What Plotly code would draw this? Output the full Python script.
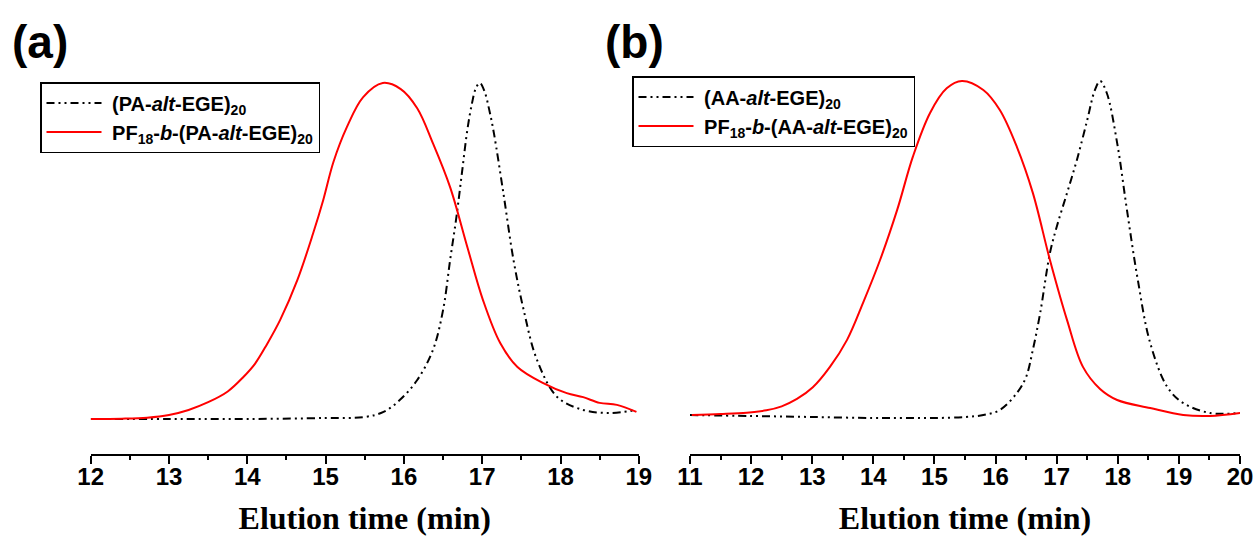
import plotly.graph_objects as go

# ---------------- data (normalized detector response) ----------------
# Panel (a)
time_a_pa = [12.0, 13.0, 14.0, 15.0, 15.5, 15.74, 15.95, 16.17, 16.37, 16.5, 16.59, 16.67, 16.74,
             16.81, 16.87, 16.92, 16.97, 17.03, 17.09, 17.15, 17.27, 17.4, 17.53, 17.7, 17.96,
             18.29, 18.63, 18.97]
int_a_pa = [0.0, 0.0, 0.0, 0.003, 0.006, 0.021, 0.057, 0.116, 0.205, 0.324, 0.473, 0.60, 0.73,
            0.86, 0.94, 0.985, 1.0, 0.975, 0.92, 0.85, 0.673, 0.473, 0.324, 0.176, 0.065,
            0.027, 0.018, 0.027]
time_a_pf = [12.0, 12.4, 12.72, 13.0, 13.25, 13.5, 13.75, 13.95, 14.1, 14.25, 14.42, 14.64, 14.84,
             14.97, 15.1, 15.27, 15.48, 15.73, 15.96, 16.17, 16.37, 16.59, 16.81, 17.01, 17.23,
             17.45, 17.78, 18.08, 18.29, 18.5, 18.72, 18.97]
int_a_pf = [0.0, 0.001, 0.004, 0.012, 0.027, 0.050, 0.082, 0.125, 0.165, 0.222, 0.295, 0.414, 0.552,
            0.652, 0.765, 0.868, 0.958, 1.0, 0.982, 0.925, 0.821, 0.69, 0.512, 0.354, 0.226,
            0.155, 0.107, 0.077, 0.065, 0.048, 0.042, 0.021]

# Panel (b)
time_b_aa = [11.0, 12.0, 13.0, 14.0, 14.5, 15.0, 15.5, 15.8, 16.07, 16.35, 16.5, 16.61, 16.73,
             16.89, 17.0, 17.17, 17.33, 17.5, 17.62, 17.71, 17.82, 17.99, 18.15, 18.32, 18.53,
             18.81, 19.07, 19.51, 20.0]
int_b_aa = [0.0, -0.003, -0.006, -0.009, -0.009, -0.009, -0.006, 0.0, 0.015, 0.066, 0.114, 0.195,
            0.305, 0.485, 0.563, 0.665, 0.763, 0.883, 0.97, 1.0, 0.964, 0.814, 0.614, 0.413,
            0.216, 0.084, 0.036, 0.006, 0.006]
time_b_pf = [11.03, 11.5, 11.93, 12.25, 12.5, 12.75, 13.01, 13.29, 13.57, 13.83, 14.11, 14.39, 14.65,
             14.93, 15.2, 15.45, 15.8, 16.07, 16.35, 16.61, 16.89, 17.17, 17.43, 17.71, 17.99,
             18.53, 19.07, 19.51, 20.0]
int_b_pf = [0.0, 0.003, 0.007, 0.014, 0.026, 0.048, 0.083, 0.144, 0.225, 0.335, 0.464, 0.614, 0.775,
            0.905, 0.978, 1.0, 0.973, 0.913, 0.802, 0.665, 0.464, 0.284, 0.144, 0.078, 0.045,
            0.021, 0.0, -0.003, 0.006]

name_a_pa = "&nbsp;(PA-<i>alt</i>-EGE)<sub>20</sub>"
name_a_pf = "&nbsp;PF<sub>18</sub>-<i>b</i>-(PA-<i>alt</i>-EGE)<sub>20</sub>"
name_b_aa = "&nbsp;(AA-<i>alt</i>-EGE)<sub>20</sub>"
name_b_pf = "&nbsp;PF<sub>18</sub>-<i>b</i>-(AA-<i>alt</i>-EGE)<sub>20</sub>"

x_title = "Elution time (min)"
ticks_a = [12, 13, 14, 15, 16, 17, 18, 19]
ticks_b = [11, 12, 13, 14, 15, 16, 17, 18, 19, 20]

# ---------------- figure ----------------
W, H = 1258, 536
top_px, bot_px = 60, 454
black_dash = "8px,4px,2px,4px,2px,4px"
sans = "Liberation Sans, Arial, sans-serif"
serif = "Liberation Serif, Times New Roman, serif"


def py(ypx):
    """pixel row -> paper y (plot area spans full width, rows top_px..bot_px)"""
    return (bot_px - ypx) / (bot_px - top_px)


fig = go.Figure()
fig.add_trace(go.Scatter(x=time_a_pa, y=int_a_pa, mode="lines", name=name_a_pa,
                         line=dict(color="black", width=2, dash=black_dash, shape="spline", smoothing=1.0),
                         xaxis="x", yaxis="y", legend="legend", legendgroup="a1"))
fig.add_trace(go.Scatter(x=time_a_pf, y=int_a_pf, mode="lines", name=name_a_pf,
                         line=dict(color="#ff0000", width=2, shape="spline", smoothing=1.0),
                         xaxis="x", yaxis="y", legend="legend", legendgroup="a2"))
fig.add_trace(go.Scatter(x=time_b_aa, y=int_b_aa, mode="lines", name=name_b_aa,
                         line=dict(color="black", width=2, dash=black_dash, shape="spline", smoothing=1.0),
                         xaxis="x2", yaxis="y2", legend="legend2", legendgroup="b1"))
fig.add_trace(go.Scatter(x=time_b_pf, y=int_b_pf, mode="lines", name=name_b_pf,
                         line=dict(color="#ff0000", width=2, shape="spline", smoothing=1.0),
                         xaxis="x2", yaxis="y2", legend="legend2", legendgroup="b2"))


def xaxis_cfg(x0, x1, rng, ticks, anchor):
    return dict(
        domain=[x0 / W, x1 / W], range=rng, tickvals=ticks, anchor=anchor,
        showline=True, linecolor="black", linewidth=2,
        ticks="outside", ticklen=8, tickwidth=2, tickcolor="black", tickangle=0,
        ticklabelstandoff=-8,
        minor=dict(ticks="outside", ticklen=4, tickwidth=2, tickcolor="black", dtick=0.5, showgrid=False),
        showgrid=False, zeroline=False,
        tickfont=dict(family=sans, size=24, color="black", weight="bold"),
        title=dict(text=x_title, font=dict(family=serif, size=32, color="black", weight="bold"), standoff=18),
    )


def yaxis_cfg(base_px, peak_px, anchor):
    scale = base_px - peak_px
    lo = -(bot_px - base_px) / scale
    hi = 1 + (peak_px - top_px) / scale
    return dict(range=[lo, hi], visible=False, domain=[0, 1], anchor=anchor)


legend_common = dict(
    bordercolor="black", borderwidth=1.5, bgcolor="white",
    font=dict(family=sans, size=20, color="black", weight="bold"),
    xanchor="left", yanchor="top",
    itemwidth=55, tracegroupgap=0, traceorder="grouped",
)

fig.update_layout(
    width=W, height=H,
    margin=dict(l=0, r=0, t=top_px, b=H - bot_px, autoexpand=False),
    paper_bgcolor="white", plot_bgcolor="white",
    xaxis=xaxis_cfg(90.7, 638.8, [12, 19], ticks_a, "y"),
    xaxis2=xaxis_cfg(690, 1240, [11, 20], ticks_b, "y2"),
    yaxis=yaxis_cfg(419, 83, "x"),
    yaxis2=yaxis_cfg(415, 81, "x2"),
    legend=dict(x=40 / W, y=py(82), **legend_common),
    legend2=dict(x=632 / W, y=py(76), **legend_common),
    showlegend=True,
    annotations=[
        dict(text="(a)", x=10 / W, y=py(42), xref="paper", yref="paper", showarrow=False,
             xanchor="left", yanchor="middle",
             font=dict(family=sans, size=46, color="black", weight="bold")),
        dict(text="(b)", x=603 / W, y=py(42), xref="paper", yref="paper", showarrow=False,
             xanchor="left", yanchor="middle",
             font=dict(family=sans, size=46, color="black", weight="bold")),
    ],
)

fig.write_html("out.html", config={"displayModeBar": False},
               post_script="document.body.style.margin='0';")
